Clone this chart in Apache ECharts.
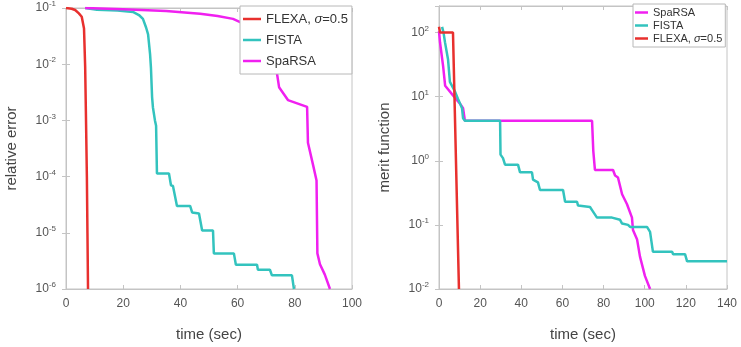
<!DOCTYPE html>
<html>
<head>
<meta charset="utf-8">
<script src="https://cdn.jsdelivr.net/npm/echarts@6/dist/echarts.min.js"></script>
<style>
  html, body { margin: 0; padding: 0; background: #fff; }
  #chart { width: 741px; height: 347px; }
</style>
</head>
<body>
<div id="chart"></div>
<script>
// left panel: relative error vs time
const errFlexa = [[0, 0.1], [2, 0.097], [3.2, 0.092], [4.5, 0.08], [5.5, 0.07], [6.3, 0.043], [6.7, 0.009],
  [7.0, 1e-3], [7.3, 1e-4], [7.5, 1e-5], [7.7, 1e-6]];
const errFista = [[6.7, 0.1], [10.8, 0.093], [18, 0.09], [23.4, 0.085], [25.5, 0.075], [26.9, 0.064], [28, 0.045],
  [28.7, 0.034], [29.4, 0.015], [29.7, 8.7e-3], [30.1, 2.6e-3], [30.4, 1.7e-3], [31.1, 1e-3], [31.5, 8e-4],
  [31.8, 1.14e-4], [36.0, 1.14e-4], [36.7, 7.0e-5], [37.4, 6.8e-5], [38.8, 3.0e-5], [43.4, 3.0e-5],
  [44.1, 2.3e-5], [46.5, 2.2e-5], [47.6, 1.1e-5], [51.4, 1.1e-5], [51.7, 4.3e-6], [58.7, 4.3e-6],
  [59.4, 2.7e-6], [66.8, 2.7e-6], [67.1, 2.2e-6], [71.3, 2.2e-6], [72.0, 1.75e-6], [79.0, 1.75e-6], [79.7, 1e-6]];
const errSparsa = [[6.7, 0.1], [20, 0.095], [35, 0.088], [46.9, 0.079], [53, 0.072], [58.4, 0.064], [63, 0.05],
  [67, 0.035], [70, 0.022], [72.5, 0.012], [73.8, 6.7e-3], [74.5, 3.9e-3], [77.6, 2.3e-3], [84.3, 1.74e-3],
  [84.6, 4e-4], [86.4, 1.6e-4], [87.6, 8.5e-5], [87.9, 4.3e-6], [88.8, 2.75e-6], [90.5, 1.8e-6], [92.3, 1e-6]];

// right panel: merit function vs time
const meritSparsa = [[0, 105], [0.5, 70], [2, 30], [3, 14.8], [6.8, 10.5], [10.2, 7.8], [11.7, 6.6], [12.6, 4.2],
  [74.4, 4.2], [75, 1.43], [75.8, 0.72], [84.6, 0.72], [85.6, 0.59], [87, 0.55], [89, 0.3], [91.4, 0.21],
  [93.8, 0.13], [94.3, 0.083], [96.3, 0.059], [97.7, 0.032], [100.1, 0.016], [102.6, 0.01]];
const meritFista = [[1.5, 123], [2.2, 100], [2.9, 71], [4.4, 38], [5.3, 17], [7.8, 12], [9.2, 9.3], [11.2, 6.6],
  [11.7, 4.6], [12.6, 4.2], [29.7, 4.2], [29.9, 1.25], [31.1, 1.1], [32.1, 0.87], [38.4, 0.87], [39.4, 0.66],
  [45.2, 0.66], [45.7, 0.51], [48.1, 0.46], [49.1, 0.35], [60.3, 0.35], [61.3, 0.23], [67.1, 0.23], [67.6, 0.2],
  [73.4, 0.19], [74.4, 0.17], [76.8, 0.13], [84.1, 0.13], [88, 0.12], [89, 0.105], [91.9, 0.1], [92.9, 0.093],
  [101.1, 0.093], [102.6, 0.078], [104, 0.038], [113.3, 0.038], [113.8, 0.035], [119.6, 0.035], [120.6, 0.027],
  [140, 0.027]];
const meritFlexa = [[0, 123], [0.5, 100], [6.8, 100], [9.7, 0.01]];

const names = ['FLEXA, σ=0.5', 'FISTA', 'SpaRSA'];
const colors = { 'FLEXA, σ=0.5': '#e8302e', FISTA: '#33c3be', SpaRSA: '#f020f0' };

const FONT = '"Liberation Sans", Arial, sans-serif';
const gray = '#c4c4c4';

const logLabel = (v) => {
  const e = Math.round(Math.log10(v));
  if (Math.abs(Math.log10(v) - e) > 1e-6) return '';
  return '{b|10}{s|' + e + '}';
};

const xAxisCommon = {
  type: 'value',
  interval: 20,
  min: 0,
  axisLine: { lineStyle: { color: gray } },
  axisTick: { inside: true, length: 4, lineStyle: { color: gray } },
  splitLine: { show: false },
  axisLabel: { color: '#555', fontSize: 12, fontFamily: FONT, margin: 9 },
  nameLocation: 'middle',
  nameGap: 38,
  nameTextStyle: { color: '#444', fontSize: 15, fontFamily: FONT },
};

const yAxisCommon = {
  type: 'log',
  logBase: 10,
  axisLine: { show: true, lineStyle: { color: gray } },
  axisTick: { inside: true, length: 4, lineStyle: { color: gray } },
  splitLine: { show: false },
  axisLabel: {
    formatter: logLabel,
    margin: 10,
    rich: {
      b: { fontSize: 12, color: '#555', fontFamily: FONT, lineHeight: 16 },
      s: { fontSize: 8, color: '#555', fontFamily: FONT, lineHeight: 8, verticalAlign: 'top' },
    },
  },
  nameLocation: 'middle',
  nameGap: 47,
  nameTextStyle: { color: '#444', fontSize: 15, fontFamily: FONT },
};

const mirror = (ax, pos) => ({
  ...ax,
  name: '',
  position: pos,
  axisLabel: { show: false },
});

const legendText = (size) => ({
  color: '#333',
  fontSize: size,
  fontFamily: FONT,
  rich: { i: { fontStyle: 'italic', fontSize: size, color: '#333', fontFamily: FONT } },
});
const legendFmt = (n) => (n.indexOf('σ') >= 0 ? 'FLEXA, {i|σ}=0.5' : n);

const line = (name, data, axisIdx, z) => ({
  name,
  type: 'line',
  data,
  xAxisIndex: axisIdx,
  yAxisIndex: axisIdx,
  symbol: 'none',
  z,
  lineStyle: { width: 2.5, color: colors[name] },
  itemStyle: { color: colors[name] },
  animation: false,
});

const chart = echarts.init(document.getElementById('chart'));
chart.setOption({
  backgroundColor: '#fff',
  animation: false,
  grid: [
    { left: 66, top: 6, width: 286, height: 287, show: true, borderColor: gray, borderWidth: 1 },
    { left: 439, top: 6, width: 288, height: 287, show: true, borderColor: gray, borderWidth: 1 },
  ],
  xAxis: [
    { ...xAxisCommon, gridIndex: 0, max: 100, name: 'time (sec)' },
    mirror({ ...xAxisCommon, gridIndex: 0, max: 100 }, 'top'),
    { ...xAxisCommon, gridIndex: 1, max: 140, name: 'time (sec)' },
    mirror({ ...xAxisCommon, gridIndex: 1, max: 140 }, 'top'),
  ],
  yAxis: [
    { ...yAxisCommon, gridIndex: 0, min: 1e-6, max: 0.1, name: 'relative error' },
    mirror({ ...yAxisCommon, gridIndex: 0, min: 1e-6, max: 0.1 }, 'right'),
    { ...yAxisCommon, gridIndex: 1, min: 0.01, max: 260, name: 'merit function' },
    mirror({ ...yAxisCommon, gridIndex: 1, min: 0.01, max: 260 }, 'right'),
  ],
  legend: [
    {
      data: names,
      orient: 'vertical',
      left: 240,
      top: 6,
      icon: 'rect',
      itemWidth: 18,
      itemHeight: 2.5,
      itemGap: 7,
      padding: [6, 4, 6, 3],
      backgroundColor: '#fff',
      borderColor: '#b8b8b8',
      borderWidth: 1,
      formatter: legendFmt,
      textStyle: { ...legendText(13), lineHeight: 14 },
      selectedMode: false,
    },
    {
      data: names.slice().reverse(),
      orient: 'vertical',
      left: 633,
      top: 4,
      icon: 'rect',
      itemWidth: 13,
      itemHeight: 2.5,
      itemGap: 2,
      padding: [3, 3, 3, 2],
      backgroundColor: '#fff',
      borderColor: '#b8b8b8',
      borderWidth: 1,
      formatter: legendFmt,
      textStyle: { ...legendText(11), lineHeight: 11 },
      selectedMode: false,
    },
  ],
  series: [
    line('FISTA', errFista, 0, 2),
    line('SpaRSA', errSparsa, 0, 3),
    line('FLEXA, σ=0.5', errFlexa, 0, 4),
    line('SpaRSA', meritSparsa, 2, 2),
    line('FISTA', meritFista, 2, 3),
    line('FLEXA, σ=0.5', meritFlexa, 2, 4),
  ],
});
</script>
</body>
</html>
